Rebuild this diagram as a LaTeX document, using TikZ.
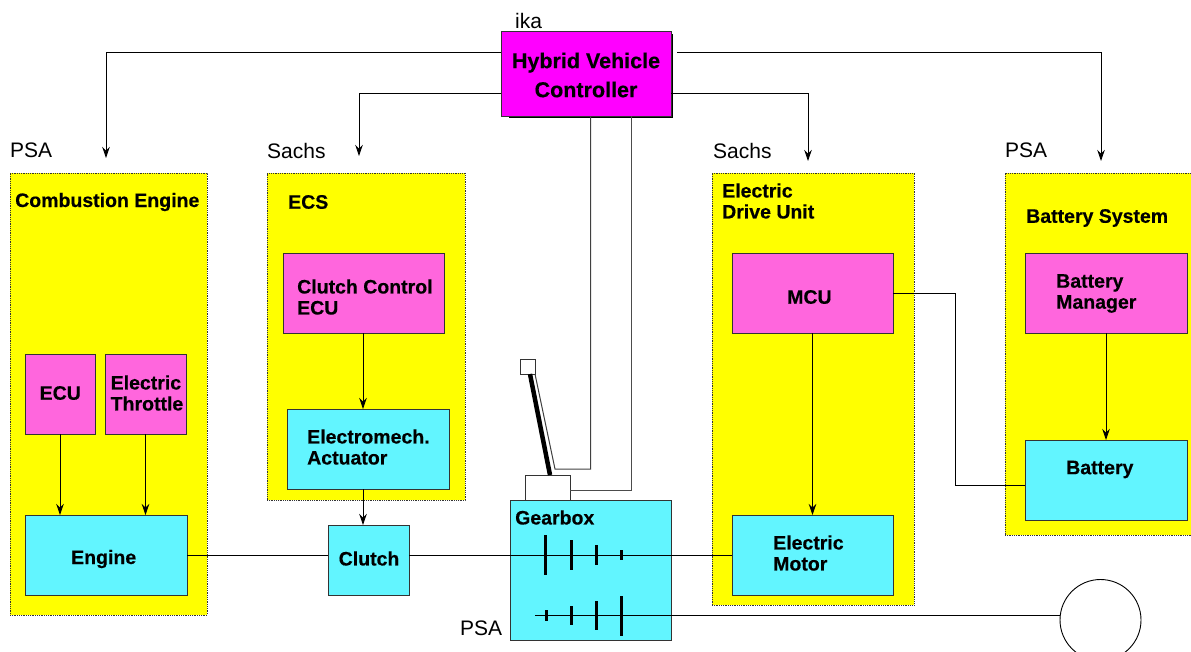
\documentclass[tikz,border=0pt]{standalone}
\usepackage{fontspec}
\setmainfont[BoldFeatures={FakeBold=0.4}]{Liberation Sans}
\usetikzlibrary{arrows.meta}
\definecolor{ctrlmag}{HTML}{FF00FF}
\definecolor{ecupink}{HTML}{FF66DD}
\definecolor{plantcyan}{HTML}{62F5FF}
\definecolor{panelyel}{HTML}{FFFF00}
\tikzset{
  panel/.style={draw=black!80,fill=panelyel,line width=.8pt,densely dotted,anchor=north west,inner sep=0pt,outer sep=0pt},
  ecubox/.style={draw=black!80,fill=ecupink,line width=.8pt,anchor=north west,inner sep=0pt,outer sep=0pt},
  plantbox/.style={ecubox,fill=plantcyan},
  boldlbl/.style={font=\boldtext,align=left,anchor=west,inner sep=0pt},
  partner/.style={font=\partnertext,anchor=west,inner sep=0pt},
  link/.style={draw=black,line width=.9pt},
  sig/.style={link,-{Stealth[length=11pt,width=7.5pt]}},
  gear/.style={draw=black,line width=3pt},
}
\newcommand{\boldtext}{\fontsize{19.5}{21}\selectfont\bfseries}
\newcommand{\partnertext}{\fontsize{21}{24}\selectfont}
\begin{document}
\begin{tikzpicture}[x=1pt,y=-1pt]
\useasboundingbox (0,0) rectangle (1191,651);
% yellow groups
\node[panel,minimum width=197pt,minimum height=442pt] (cePanel) at (10,173) {};
\node[panel,minimum width=198pt,minimum height=327pt] (ecsPanel) at (267,173) {};
\node[panel,minimum width=202pt,minimum height=432pt] (eduPanel) at (712,173) {};
\node[panel,minimum width=190pt,minimum height=362pt] (bsPanel) at (1005,173) {};
\node[boldlbl] (ceLbl) at (15,202) {Combustion Engine};
\node[boldlbl] (ecsLbl) at (288,202) {ECS};
\node[boldlbl] (eduLbl) at (722,201) {Electric\\Drive Unit};
\node[boldlbl] (bsLbl) at (1026,218) {Battery System};
% suppliers
\node[partner] (ikaLbl) at (515,20.5) {ika};
\node[partner] (psaA) at (10,150.5) {PSA};
\node[partner] (sachsA) at (267,150.5) {Sachs};
\node[partner] (sachsB) at (713,150.5) {Sachs};
\node[partner] (psaB) at (1005,150.5) {PSA};
\node[partner] (psaC) at (460,628.5) {PSA};
% boxes
\fill[black] (509,34) rectangle (672.5,117.5);
\node[ecubox,fill=ctrlmag,minimum width=170pt,minimum height=85pt] (hvc) at (501,31) {};
\node[font=\fontsize{21.5}{21}\selectfont\bfseries,align=center,inner sep=0pt] (hvcLbl) at (586,75) {Hybrid Vehicle\\[8pt]Controller};
\node[ecubox,minimum width=70pt,minimum height=80pt] (ecu) at (25,354) {};
\node[boldlbl] (ecuLbl) at (39.5,393) {ECU};
\node[ecubox,minimum width=81pt,minimum height=80pt] (throttle) at (105,354) {};
\node[boldlbl] (throttleLbl) at (110.5,393) {Electric\\Throttle};
\node[ecubox,minimum width=161pt,minimum height=80pt] (ccu) at (283,253) {};
\node[boldlbl] (ccuLbl) at (297,297) {Clutch Control\\ECU};
\node[ecubox,minimum width=161pt,minimum height=80pt] (mcu) at (732,253) {};
\node[boldlbl] (mcuLbl) at (787,297) {MCU};
\node[ecubox,minimum width=162pt,minimum height=80pt] (bms) at (1025,253) {};
\node[boldlbl] (bmsLbl) at (1056,293.5) {Battery\\Manager};
\node[plantbox,minimum width=162pt,minimum height=80pt] (engine) at (25,515) {};
\node[boldlbl] (engineLbl) at (71,559) {Engine};
\node[plantbox,minimum width=162pt,minimum height=80pt] (actuator) at (287,409) {};
\node[boldlbl] (actuatorLbl) at (307,447) {Electromech.\\Actuator};
\node[plantbox,minimum width=81pt,minimum height=70pt] (clutch) at (328,525) {};
\node[boldlbl] (clutchLbl) at (338.5,558.5) {Clutch};
\node[plantbox,minimum width=161pt,minimum height=80pt] (motor) at (732,515) {};
\node[boldlbl] (motorLbl) at (773,553) {Electric\\Motor};
\node[plantbox,minimum width=162pt,minimum height=80pt] (battery) at (1025,440) {};
\node[boldlbl] (batteryLbl) at (1066,469.5) {Battery};
\node[plantbox,minimum width=161pt,minimum height=140pt] (gearbox) at (510,500) {};
\node[boldlbl] (gearboxLbl) at (515,517.5) {Gearbox};
\node[draw=black!80,fill=white,line width=.8pt,anchor=north west,inner sep=0pt,outer sep=0pt,minimum width=45pt,minimum height=25pt] (shifter) at (525,475) {};
\node[draw=black!80,fill=white,line width=.8pt,anchor=north west,inner sep=0pt,outer sep=0pt,minimum width=15pt,minimum height=15pt] (knob) at (520,359) {};
\node[draw=black,fill=white,line width=.9pt,circle,inner sep=0pt,outer sep=0pt,minimum size=81pt] (wheel) at (1100.5,620) {};
% free ends and tap points
\coordinate (ceIn) at (106,158);
\coordinate (ecsIn) at (359,156);
\coordinate (eduIn) at (808,161);
\coordinate (bsIn) at (1101,161);
\coordinate (hvcTapA) at (501,52);
\coordinate (hvcTapB) at (501,93);
\coordinate (hvcTapC) at (671,93);
\coordinate (hvcTapD) at (677,52);
\coordinate (hvcTapE) at (590.5,116);
\coordinate (hvcTapF) at (631.5,116);
\coordinate (leverFoot) at (555,469);
\coordinate (leverTop) at (535,374);
\coordinate (shifterTap) at (570,490);
\coordinate (shaftEnd) at (535,615.5);
\coordinate (shaftWheel) at (1060,615.5);
\coordinate (batteryTap) at (1025,485);
\coordinate (ccuOut) at (363,333);
\coordinate (actuatorIn) at (363,409);
\coordinate (actuatorOut) at (363,489);
\coordinate (clutchIn) at (363,525);
% connectors
\draw[sig] (hvcTapA) -| (ceIn);
\draw[sig] (hvcTapB) -| (ecsIn);
\draw[sig] (hvcTapC) -| (eduIn);
\draw[sig] (hvcTapD) -| (bsIn);
\draw[link,draw=black!75,line width=1pt] (hvcTapE) |- (leverFoot) -- (leverTop);
\draw[link,draw=black!70,line width=1pt] (hvcTapF) |- (shifterTap);
\draw[black,line width=4.5pt] (530,374) -- (550,475);
\draw[sig] (ecu.south) -- (ecu.south |- engine.north);
\draw[sig] (throttle.south) -- (throttle.south |- engine.north);
\draw[sig] (ccuOut) -- (actuatorIn);
\draw[sig] (actuatorOut) -- (clutchIn);
\draw[sig] (mcu.south) -- (mcu.south |- motor.north);
\draw[sig] (bms.south) -- (bms.south |- battery.north);
\draw[link] (mcu.east) -- ++(62,0) |- (batteryTap);
\draw[link] (engine.east) -- (engine.east -| clutch.west);
\draw[link] (clutch.east |- motor.west) -- (motor.west);
\draw[link] (shaftEnd) -- (shaftWheel);
% gear wheels
\draw[gear] (545.5,535) -- (545.5,575);
\draw[gear] (571,540) -- (571,570);
\draw[gear] (596,545) -- (596,565);
\draw[gear] (621,550) -- (621,560);
\draw[gear] (546,610) -- (546,621);
\draw[gear] (571,606) -- (571,625);
\draw[gear] (596,601) -- (596,630);
\draw[gear] (621.5,596) -- (621.5,636);
\end{tikzpicture}
\end{document}
